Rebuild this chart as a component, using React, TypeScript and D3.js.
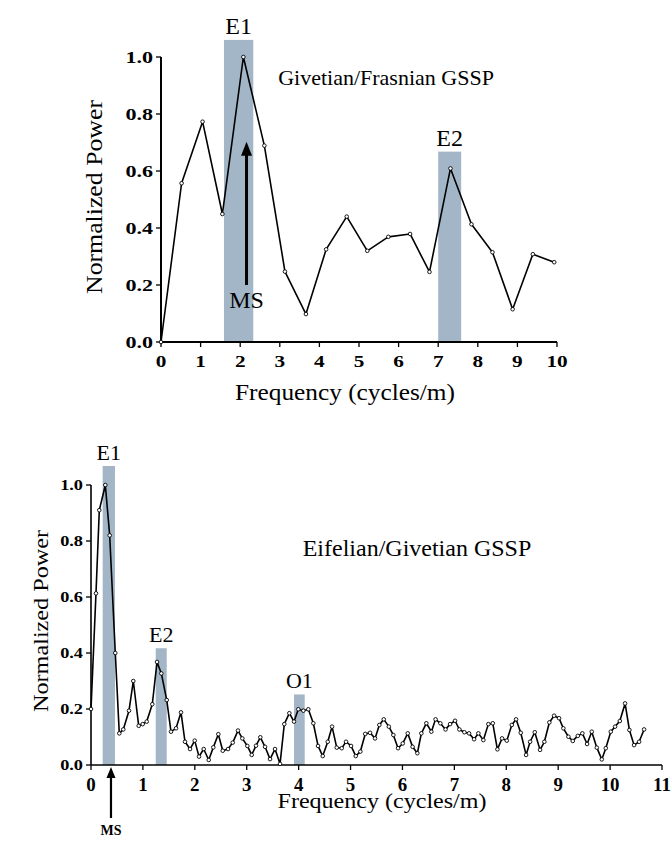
import React from "react";
import * as d3 from "d3";

const W = 672;
const H = 843;
const FONT = "'Liberation Serif', 'Times New Roman', Times, serif";
const BAND_FILL = "#a3b6c7";

// Givetian/Frasnian GSSP spectrum
const gfFreq = [0, 0.52, 1.05, 1.55, 2.08, 2.61, 3.13, 3.66, 4.17, 4.69, 5.21, 5.74, 6.29, 6.78, 7.31, 7.84, 8.37, 8.88, 9.39, 9.93];
const gfPower = [0, 0.557, 0.773, 0.449, 1.0, 0.689, 0.247, 0.098, 0.325, 0.44, 0.32, 0.369, 0.379, 0.246, 0.609, 0.413, 0.315, 0.115, 0.308, 0.28];
const gfBandLabels = ["E1", "E2"];
const gfBandFrom = [1.59, 7.0];
const gfBandTo = [2.33, 7.58];
const gfBandTop = [1.06, 0.668];
const gfXTicks = [0, 1, 2, 3, 4, 5, 6, 7, 8, 9, 10];
const gfMsFreq = 2.16;

// Eifelian/Givetian GSSP spectrum
const egFreq = [
  0, 0.096, 0.16, 0.276, 0.36, 0.468, 0.545, 0.622, 0.732, 0.815, 0.919, 0.996, 1.073, 1.181, 1.272, 1.355,
  1.459, 1.541, 1.638, 1.734, 1.811, 1.908, 1.998, 2.081, 2.171, 2.268, 2.356, 2.453, 2.538, 2.64, 2.73, 2.832,
  2.915, 3.012, 3.096, 3.179, 3.262, 3.353, 3.449, 3.545, 3.642, 3.724, 3.821, 3.911, 3.994, 4.091, 4.187, 4.283,
  4.374, 4.464, 4.561, 4.644, 4.734, 4.83, 4.913, 5.01, 5.1, 5.189, 5.283, 5.376, 5.472, 5.555, 5.64, 5.738,
  5.825, 5.915, 6.006, 6.102, 6.195, 6.287, 6.364, 6.46, 6.557, 6.638, 6.73, 6.83, 6.917, 7.013, 7.096, 7.193,
  7.283, 7.38, 7.462, 7.559, 7.655, 7.74, 7.829, 7.919, 8.01, 8.106, 8.189, 8.279, 8.382, 8.459, 8.549, 8.651,
  8.734, 8.83, 8.921, 9.017, 9.1, 9.197, 9.281, 9.378, 9.466, 9.557, 9.647, 9.744, 9.84, 9.917, 10.013, 10.096,
  10.187, 10.289, 10.372, 10.462, 10.559, 10.655,
];
const egPower = [
  0.2, 0.613, 0.91, 1.0, 0.82, 0.4, 0.113, 0.127, 0.194, 0.3, 0.14, 0.146, 0.155, 0.217, 0.368, 0.327,
  0.232, 0.119, 0.131, 0.188, 0.083, 0.057, 0.087, 0.03, 0.057, 0.018, 0.063, 0.11, 0.051, 0.057, 0.08, 0.123,
  0.095, 0.068, 0.036, 0.069, 0.099, 0.065, 0.021, 0.057, 0.004, 0.146, 0.185, 0.155, 0.199, 0.194, 0.199, 0.149,
  0.068, 0.032, 0.083, 0.137, 0.062, 0.06, 0.083, 0.068, 0.032, 0.048, 0.111, 0.115, 0.095, 0.143, 0.163, 0.137,
  0.107, 0.06, 0.077, 0.113, 0.065, 0.042, 0.113, 0.149, 0.119, 0.163, 0.149, 0.127, 0.146, 0.158, 0.127, 0.117,
  0.113, 0.092, 0.113, 0.089, 0.146, 0.149, 0.056, 0.095, 0.087, 0.143, 0.163, 0.115, 0.036, 0.083, 0.117, 0.054,
  0.083, 0.152, 0.176, 0.167, 0.131, 0.101, 0.086, 0.104, 0.113, 0.075, 0.119, 0.062, 0.02, 0.06, 0.119, 0.137,
  0.157, 0.22, 0.125, 0.071, 0.083, 0.127,
];
const egBandLabels = ["E1", "E2", "O1"];
const egBandFrom = [0.225, 1.247, 3.911];
const egBandTo = [0.462, 1.459, 4.117];
const egBandTop = [1.068, 0.417, 0.252];
const egXTicks = [0, 1, 2, 3, 4, 5, 6, 7, 8, 9, 10, 11];
const egMsFreq = 0.385;

const yTicks = [0, 0.2, 0.4, 0.6, 0.8, 1.0];

type TextStyle = { size: number; bold?: boolean; sx?: number; len?: number };

// Text drawn at (x, y) with an optional horizontal stretch or fixed length
function Label({
  x,
  y,
  anchor = "middle",
  rotate = 0,
  st,
  children,
}: {
  x: number;
  y: number;
  anchor?: "start" | "middle" | "end";
  rotate?: number;
  st: TextStyle;
  children: React.ReactNode;
}) {
  const sx = st.sx ?? 1;
  return (
    <text
      transform={`translate(${x},${y}) rotate(${rotate}) scale(${sx},1)`}
      textAnchor={anchor}
      fontFamily={FONT}
      fontSize={st.size}
      fontWeight={st.bold ? "bold" : "normal"}
      textLength={st.len}
      lengthAdjust={st.len ? "spacingAndGlyphs" : undefined}
    >
      {children}
    </text>
  );
}

type PanelProps = {
  freq: number[];
  power: number[];
  bandLabels: string[];
  bandFrom: number[];
  bandTo: number[];
  bandTop: number[];
  xTicks: number[];
  xDomain: [number, number];
  xRange: [number, number];
  yRange: [number, number];
  title: string;
  titlePos: [number, number];
  titleStyle: TextStyle;
  xTickStyle: TextStyle;
  yTickStyle: TextStyle;
  xTickBaseline: number;
  bandLabelStyle: TextStyle;
  yLabelPos: [number, number];
  yLabelStyle: TextStyle;
  xLabelPos: [number, number];
  xLabelStyle: TextStyle;
  axisWidth: number;
  children?: React.ReactNode;
};

function Panel(p: PanelProps) {
  const x = d3.scaleLinear().domain(p.xDomain).range(p.xRange);
  const y = d3.scaleLinear().domain([0, 1]).range(p.yRange);
  const pts = p.freq.map((f, i) => [f, p.power[i]] as [number, number]);
  const line = d3
    .line<[number, number]>()
    .x((d) => x(d[0]))
    .y((d) => y(d[1]));
  const fmt = d3.format(".1f");
  const x0 = p.xRange[0];
  const y0 = p.yRange[0];
  const tl = 5;
  return (
    <g>
      {p.bandLabels.map((lab, i) => (
        <g key={lab}>
          <rect
            x={x(p.bandFrom[i])}
            y={y(p.bandTop[i])}
            width={x(p.bandTo[i]) - x(p.bandFrom[i])}
            height={y(0) - y(p.bandTop[i])}
            fill={BAND_FILL}
          />
          <Label x={(x(p.bandFrom[i]) + x(p.bandTo[i])) / 2} y={y(p.bandTop[i]) - 6} st={p.bandLabelStyle}>
            {lab}
          </Label>
        </g>
      ))}
      <line x1={x0} x2={x0} y1={y(0)} y2={y(1)} stroke="#000" strokeWidth={p.axisWidth} />
      <line x1={x0} x2={x(p.xDomain[1])} y1={y0} y2={y0} stroke="#000" strokeWidth={p.axisWidth} />
      {yTicks.map((t) => (
        <g key={t}>
          <line x1={x0 - tl} x2={x0} y1={y(t)} y2={y(t)} stroke="#000" strokeWidth={1.3} />
          <Label x={x0 - tl - 3} y={y(t) + p.yTickStyle.size * 0.34} anchor="end" st={p.yTickStyle}>
            {fmt(t)}
          </Label>
        </g>
      ))}
      {p.xTicks.map((t) => (
        <g key={t}>
          <line x1={x(t)} x2={x(t)} y1={y0} y2={y0 + tl} stroke="#000" strokeWidth={1.3} />
          <Label x={x(t)} y={p.xTickBaseline} st={p.xTickStyle}>
            {t}
          </Label>
        </g>
      ))}
      <path d={line(pts) ?? ""} fill="none" stroke="#000" strokeWidth={1.6} strokeLinejoin="round" />
      {pts.map((d, i) => (
        <circle key={i} cx={x(d[0])} cy={y(d[1])} r={1.8} fill="#fff" stroke="#000" strokeWidth={0.9} />
      ))}
      <Label x={p.titlePos[0]} y={p.titlePos[1]} st={p.titleStyle}>
        {p.title}
      </Label>
      <Label x={p.yLabelPos[0]} y={p.yLabelPos[1]} rotate={-90} st={p.yLabelStyle}>
        Normalized Power
      </Label>
      <Label x={p.xLabelPos[0]} y={p.xLabelPos[1]} st={p.xLabelStyle}>
        Frequency (cycles/m)
      </Label>
      {p.children}
    </g>
  );
}

export default function App() {
  const gfX = d3.scaleLinear().domain([0, 10]).range([161, 557]);
  const gfY = d3.scaleLinear().domain([0, 1]).range([342, 57]);
  const egX = d3.scaleLinear().domain([0, 11]).range([91, 662]);
  const egY = d3.scaleLinear().domain([0, 1]).range([765, 485]);

  return (
    <svg
      width={W}
      height={H}
      viewBox={`0 0 ${W} ${H}`}
      style={{ position: "absolute", left: 0, top: 0, background: "#fff" }}
    >
      <rect width={W} height={H} fill="#fff" />
      <Panel
        freq={gfFreq}
        power={gfPower}
        bandLabels={gfBandLabels}
        bandFrom={gfBandFrom}
        bandTo={gfBandTo}
        bandTop={gfBandTop}
        xTicks={gfXTicks}
        xDomain={[0, 10]}
        xRange={[161, 557]}
        yRange={[342, 57]}
        title="Givetian/Frasnian GSSP"
        titlePos={[386, 85]}
        titleStyle={{ size: 22 }}
        xTickStyle={{ size: 17, bold: true, sx: 1.25 }}
        yTickStyle={{ size: 17, bold: true, sx: 1.3 }}
        xTickBaseline={367}
        bandLabelStyle={{ size: 24 }}
        yLabelPos={[102, 197]}
        yLabelStyle={{ size: 23, len: 194 }}
        xLabelPos={[345, 400]}
        xLabelStyle={{ size: 23, len: 220 }}
        axisWidth={2}
      >
        {/* MS arrow pointing up inside the E1 band */}
        <line x1={gfX(gfMsFreq)} x2={gfX(gfMsFreq)} y1={gfY(0.2)} y2={gfY(0.66)} stroke="#000" strokeWidth={3} />
        <path d={`M${gfX(gfMsFreq)},${gfY(0.703)} l-5.5,14 l11,0 z`} fill="#000" />
        <Label x={gfX(gfMsFreq)} y={308} st={{ size: 24 }}>
          MS
        </Label>
      </Panel>
      <Panel
        freq={egFreq}
        power={egPower}
        bandLabels={egBandLabels}
        bandFrom={egBandFrom}
        bandTo={egBandTo}
        bandTop={egBandTop}
        xTicks={egXTicks}
        xDomain={[0, 11]}
        xRange={[91, 662]}
        yRange={[765, 485]}
        title="Eifelian/Givetian GSSP"
        titlePos={[417, 556]}
        titleStyle={{ size: 24 }}
        xTickStyle={{ size: 18, bold: true, sx: 1.05 }}
        yTickStyle={{ size: 15.5, bold: true, sx: 1.18 }}
        xTickBaseline={791}
        bandLabelStyle={{ size: 22 }}
        yLabelPos={[48, 621]}
        yLabelStyle={{ size: 22, len: 182 }}
        xLabelPos={[382, 808]}
        xLabelStyle={{ size: 21, len: 209 }}
        axisWidth={1.6}
      >
        {/* MS arrow below the axis */}
        <line x1={egX(egMsFreq)} x2={egX(egMsFreq)} y1={818} y2={egY(0) + 10} stroke="#000" strokeWidth={2.2} />
        <path d={`M${egX(egMsFreq)},${egY(0) + 2} l-4.5,11 l9,0 z`} fill="#000" />
        <Label x={egX(egMsFreq)} y={835} st={{ size: 14, bold: true }}>
          MS
        </Label>
      </Panel>
    </svg>
  );
}
